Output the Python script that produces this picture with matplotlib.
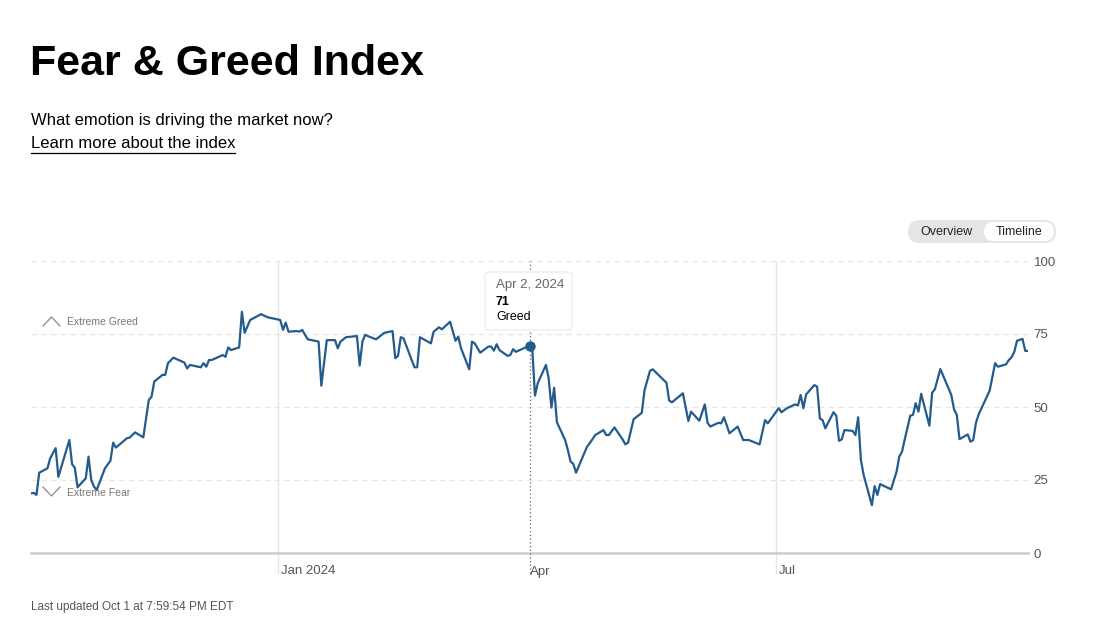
import matplotlib.pyplot as plt
import matplotlib.transforms as mtrans
import pandas as pd
from matplotlib.patches import FancyBboxPatch
from matplotlib.lines import Line2D

plt.rcParams['font.family'] = ['Liberation Sans', 'DejaVu Sans']

# day offsets from 2024-01-01 and index value
days = [-90, -89, -88, -87, -84, -83, -81, -80, -76, -75, -74, -73, -70, -69, -68, -67,
        -66, -63, -61, -60, -59, -55, -54, -52, -49, -47, -46, -45, -42, -41, -40, -38,
        -34, -33, -32, -28, -27, -26, -25, -24, -20, -19, -18, -17, -14, -13, -12, -10,
        -6, -4, -3, 1, 2, 3, 4, 7, 8, 9, 11, 15, 16, 18, 21, 22, 23, 25, 29, 30, 31, 32,
        34, 36, 39, 42, 43, 44, 45, 46, 50, 51, 52, 56, 57, 59, 60, 63, 65, 66, 67, 70,
        71, 72, 74, 77, 78, 79, 80, 81, 84, 85, 86, 87, 92, 93, 94, 95, 98, 99, 100, 101,
        102, 105, 106, 107, 108, 109, 113, 114, 116, 119, 120, 121, 123, 126, 127, 128,
        130, 133, 134, 136, 137, 142, 143, 144, 148, 150, 151, 154, 156, 157, 158, 161,
        162, 163, 165, 168, 170, 172, 176, 178, 179, 183, 184, 186, 189, 190, 191, 192,
        193, 196, 197, 198, 199, 200, 203, 204, 205, 206, 207, 210, 211, 212, 213, 214,
        217, 218, 219, 220, 224, 226, 227, 228, 229, 231, 232, 233, 234, 235, 238, 239,
        240, 242, 246, 247, 248, 249, 252, 253, 254, 255, 256, 260, 262, 263, 266, 267,
        268, 269, 270, 272, 273, 274]
values = [20.4, 20.6, 19.9, 27.5, 29, 32.4, 35.9, 26.1, 38.7, 30.4, 29.2, 22.5, 25.6, 33, 25, 22.7,
          21.6, 29, 31.6, 37.8, 36.1, 39.3, 39.5, 41.3, 39.6, 52.4, 53.5, 58.7, 61, 61, 65, 66.9,
          65.2, 63.2, 64.4, 63.6, 65, 63.8, 66.1, 66.1, 67.8, 67.2, 70.4, 69.5, 70.4, 82.6, 75.4, 79.8,
          81.8, 80.9, 80.6, 79.8, 76.4, 78.9, 75.8, 76, 75.8, 76.4, 73.2, 72.4, 57.3, 72.9, 72.9, 70.1, 72.4, 73.9, 74.3, 64.2, 72.4, 74.7,
          73.9, 73.2, 75.4, 76, 66.7, 67.5, 73.9, 73.5, 63.6, 63.6, 73.9, 71.8, 75.8, 77.3, 76.6, 79.2, 72.7, 74.1, 70.1, 62.9,
          72.4, 71.8, 68.6, 70.7, 70.7, 69.3, 71.5, 69.5, 67.5, 67.8, 69.8, 68.9, 71, 70.1, 53.9, 58.1, 64.4, 59.8, 49.8, 56.6,
          44.8, 38.7, 35.3, 31.3, 30.5, 27.5, 36.4, 37.6, 40.4, 42.1, 40.4, 40.4, 43, 38.9, 37.2, 37.8,
          45.8, 48, 55.8, 62.4, 62.9, 58.3, 52.2, 51.6, 54.7, 45.2, 48.4, 45.3, 50.9, 44.6, 43.3, 44.6,
          44.4, 46.5, 41, 43.3, 38.7, 38.7, 37.2, 45.5, 44.4, 49.6, 48.2, 49.6, 50.9, 50.5, 54.1, 49.6,
          54.3, 57.5, 57, 46.1, 45.5, 42.7, 48.2, 47, 38.4, 38.9, 42.1, 41.8, 40.4, 46.5, 31.8, 26.7,
          16.4, 22.9, 19.9, 23.6, 21.8, 27.8, 33, 34.7, 38.9, 47, 47.3, 51.3, 48.4, 54.5, 43.6, 54.9,
          56.1, 63, 54.1, 49.2, 47.3, 39, 40.6, 38.1, 38.7, 44.6, 47.5, 55.6, 65, 63.8, 64.6, 66.1,
          67, 68.9, 72.7, 73.3, 69.2, 69.2]

dates = pd.Timestamp('2024-01-01') + pd.to_timedelta(days, unit='D')

month_ticks = ['2024-01-01', '2024-04-01', '2024-07-01']
month_labels = ['Jan 2024', 'Apr', 'Jul']
y_ticks = [0, 25, 50, 75, 100]

hover_date = pd.Timestamp('2024-04-02')
hover_value = 71

line_color = '#245b8d'
grid_color = '#e6e6e6'
text_grey = '#555555'

fig = plt.figure(figsize=(11, 6.25), dpi=100)
W, H = 1100, 625


def fx(px):
    return px / W


def fy(py):
    return 1 - py / H


ax = fig.add_axes([fx(31), fy(553), fx(1028) - fx(31), fy(261) - fy(553)])
ax.set_xlim(dates[0], dates[-1])
ax.set_ylim(0, 100)

for s in ax.spines.values():
    s.set_visible(False)

# horizontal dashed grid
for v in y_ticks[1:]:
    ax.axhline(v, color=grid_color, lw=1, ls=(0, (4, 3)), zorder=0)
ax.axhline(0, color='#cccccc', lw=1.8, zorder=1, clip_on=False)

# vertical month lines that run a little below the baseline (Apr is covered by the crosshair)
for d in month_ticks:
    if d == '2024-04-01':
        continue
    ax.axvline(pd.Timestamp(d), ymin=-0.07, ymax=1, color=grid_color, lw=1, zorder=0, clip_on=False)

# hover crosshair
ax.axvline(hover_date, ymin=-0.07, ymax=1.0, color='#666666', lw=0.9, ls=(0, (1, 2)), zorder=2, clip_on=False)

ax.plot(dates, values, color=line_color, lw=1.6, zorder=3, solid_joinstyle='round')
ax.plot([hover_date], [hover_value], 'o', color=line_color, ms=6.5, zorder=4)

ax.set_xticks([pd.Timestamp(d) for d in month_ticks])
ax.set_xticklabels(month_labels, ha='left')
ax.tick_params(axis='x', length=0, pad=9, labelsize=9.5, labelcolor=text_grey)
offset = mtrans.ScaledTranslation(3 / 100, 0, fig.dpi_scale_trans)
for lbl in ax.get_xticklabels():
    lbl.set_transform(lbl.get_transform() + offset)

ax.yaxis.tick_right()
ax.set_yticks(y_ticks)
ax.set_yticklabels([str(v) for v in y_ticks])
ax.tick_params(axis='y', length=0, pad=4, labelsize=9.5, labelcolor=text_grey)

# extreme zone labels with chevrons
fig.text(fx(67), fy(322), 'Extreme Greed', fontsize=7.5, color='#777777', va='center')
fig.text(fx(67), fy(493), 'Extreme Fear', fontsize=7.5, color='#777777', va='center')
fig.add_artist(Line2D([fx(43), fx(51.5), fx(60)], [fy(326), fy(317), fy(326)],
                      color='#888888', lw=0.9, transform=fig.transFigure))
fig.add_artist(Line2D([fx(43), fx(51.5), fx(60)], [fy(487), fy(496), fy(487)],
                      color='#888888', lw=0.9, transform=fig.transFigure))

# header
fig.text(fx(30), fy(64), 'Fear & Greed Index', fontsize=31, fontweight='bold', color='black', va='center')
fig.text(fx(31), fy(121), 'What emotion is driving the market now?', fontsize=12, color='black', va='center')
fig.text(fx(31), fy(144), 'Learn more about the index', fontsize=12, color='black', va='center')
fig.add_artist(Line2D([fx(31), fx(235)], [fy(152.5), fy(152.5)], color='black', lw=0.9,
                      transform=fig.transFigure))

# overview / timeline toggle
inch = fig.dpi_scale_trans
fig.add_artist(FancyBboxPatch((908 / 100, (625 - 243) / 100), 148 / 100, 23 / 100,
                              boxstyle='round,pad=0,rounding_size=0.115', transform=inch,
                              facecolor='#e5e5e5', edgecolor='none'))
fig.add_artist(FancyBboxPatch((984 / 100, (625 - 241) / 100), 70 / 100, 19 / 100,
                              boxstyle='round,pad=0,rounding_size=0.095', transform=inch,
                              facecolor='white', edgecolor='none'))
fig.text(fx(946), fy(232), 'Overview', fontsize=9, color='#222222', ha='center', va='center')
fig.text(fx(1019), fy(232), 'Timeline', fontsize=9, color='#222222', ha='center', va='center')

# tooltip
fig.add_artist(FancyBboxPatch((485 / 100, (625 - 330) / 100), 87 / 100, 58 / 100,
                              boxstyle='round,pad=0,rounding_size=0.04', transform=inch,
                              facecolor='white', edgecolor='#e8e8e8', lw=0.8, zorder=5))
fig.text(fx(496), fy(285), 'Apr 2, 2024', fontsize=9.5, color='#666666', va='center', zorder=6)
fig.text(fx(496), fy(302), '71', fontsize=9, color='black', fontweight='bold', va='center', zorder=6)
fig.text(fx(496), fy(317), 'Greed', fontsize=9, color='black', va='center', zorder=6)

fig.text(fx(31), fy(607), 'Last updated Oct 1 at 7:59:54 PM EDT', fontsize=8.5, color=text_grey, va='center')

fig.savefig('out.png', dpi=100, facecolor='white')
